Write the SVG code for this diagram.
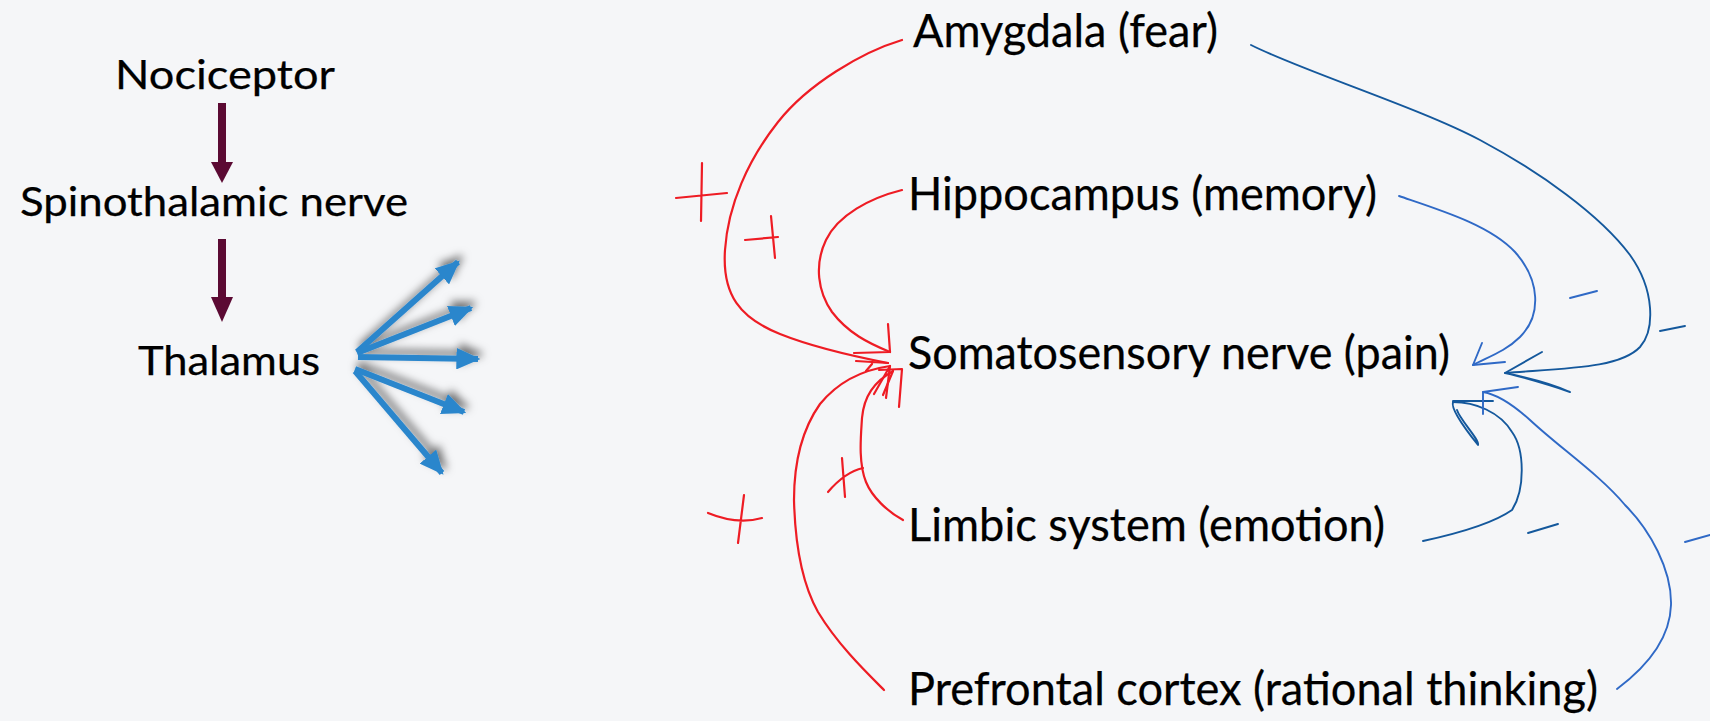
<svg xmlns="http://www.w3.org/2000/svg" width="1710" height="721" viewBox="0 0 1710 721">
<defs>
<style>
.lbl{font-family:Lato,"Open Sans","Liberation Sans",sans-serif;fill:#000;stroke:#000;stroke-width:0.25}
.l{font-size:40px}
.r{font-size:46px}
.red{fill:none;stroke:#ee1c24;stroke-width:2.2;stroke-linecap:round;stroke-linejoin:round}
.bd{fill:none;stroke:#14589c;stroke-width:1.9;stroke-linecap:round;stroke-linejoin:round}
.bl{fill:none;stroke:#2f69c6;stroke-width:1.9;stroke-linecap:round;stroke-linejoin:round}
.mar{fill:#5b0a33}
.fan{stroke:#2b86cc;stroke-width:6;fill:none}
</style>
<marker id="fanhead" viewBox="0 0 4 3.6" refX="3.6" refY="1.8" markerWidth="4" markerHeight="3.6" orient="auto" markerUnits="strokeWidth">
<path d="M0,0 L4,1.8 L0,3.6 z" fill="#2b86cc"/>
</marker>
<filter id="shadow" x="-30%" y="-30%" width="160%" height="160%">
<feDropShadow dx="3" dy="-5" stdDeviation="4" flood-color="#000" flood-opacity="0.55"/>
</filter>
</defs>
<rect x="0" y="0" width="1710" height="721" fill="#f5f6f8"/>

<g id="nociceptor"><text class="lbl l" x="115" y="89" textLength="220" lengthAdjust="spacingAndGlyphs">Nociceptor</text></g>
<g id="spinothalamic"><text class="lbl l" x="20" y="216" textLength="388" lengthAdjust="spacingAndGlyphs">Spinothalamic nerve</text></g>
<g id="thalamus"><text class="lbl l" x="138" y="375" textLength="182" lengthAdjust="spacingAndGlyphs">Thalamus</text></g>
<g id="amygdala"><text class="lbl r" x="913" y="47" textLength="305" lengthAdjust="spacingAndGlyphs">Amygdala (fear)</text></g>
<g id="hippocampus"><text class="lbl r" x="908" y="210" textLength="469" lengthAdjust="spacingAndGlyphs">Hippocampus (memory)</text></g>
<g id="somatosensory"><text class="lbl r" x="908" y="369" textLength="542" lengthAdjust="spacingAndGlyphs">Somatosensory nerve (pain)</text></g>
<g id="limbic"><text class="lbl r" x="908" y="541" textLength="477" lengthAdjust="spacingAndGlyphs">Limbic system (emotion)</text></g>
<g id="prefrontal"><text class="lbl r" x="908" y="705" textLength="690" lengthAdjust="spacingAndGlyphs">Prefrontal cortex (rational thinking)</text></g>

<g id="connectors">
<!-- maroon arrows -->
<rect class="mar" x="218" y="103" width="8" height="60"/>
<polygon class="mar" points="211,162 233,162 222,183"/>
<rect class="mar" x="218" y="239" width="8" height="59"/>
<polygon class="mar" points="211,297 233,297 222,322"/>

<!-- thalamus fan -->
<g filter="url(#shadow)">
<line class="fan" x1="357" y1="352" x2="458" y2="262" marker-end="url(#fanhead)"/>
<line class="fan" x1="357" y1="353" x2="471" y2="308" marker-end="url(#fanhead)"/>
<line class="fan" x1="358" y1="357" x2="478" y2="359" marker-end="url(#fanhead)"/>
<line class="fan" x1="355" y1="369" x2="464" y2="412" marker-end="url(#fanhead)"/>
<line class="fan" x1="355" y1="371" x2="442" y2="473" marker-end="url(#fanhead)"/>
</g>

<!-- red (+) connectors -->
<path class="red" d="M902,40 C862,52 808,84 778,122 C748,160 728,205 725,250 C722,295 740,318 780,334 C815,348 852,356 888,363"/>
<path class="red" d="M888,363 L856,361 M872,364 L866,371"/>
<path class="red" d="M902,190 C870,198 838,215 826,240 C814,265 818,292 832,312 C848,333 868,343 890,352"/>
<path class="red" d="M888,324 L890,352 L854,353"/>
<path class="red" d="M903,520 C888,512 872,497 866,482 C858,462 861,435 862,418 C864,396 874,382 893,371"/>
<path class="red" d="M879,370 L902,369 L899,407 M893,371 L883,395"/>
<path class="red" d="M884,690 C866,672 838,645 818,612 C800,580 795,540 794,500 C794,460 803,428 820,404 C838,382 862,370 890,366"/>
<path class="red" d="M890,366 L874,394 M890,366 L886,398"/>
<path class="red" d="M702,163 L701,221 M676,198 L727,193"/>
<path class="red" d="M771,216 L775,258 M745,240 L778,237"/>
<path class="red" d="M744,495 L738,543 M708,513 Q737,525 762,518"/>
<path class="red" d="M842,458 L845,497 M828,492 Q845,472 863,468"/>

<!-- blue (-) connectors -->
<path class="bd" d="M1251,45 C1300,70 1420,108 1480,140 C1540,172 1600,215 1630,255 C1655,290 1655,330 1640,347 C1620,368 1570,368 1505,373"/>
<path class="bd" d="M1542,352 L1505,373 C1530,378 1555,385 1570,392 C1550,385 1525,378 1510,374"/>
<path class="bl" d="M1399,196 C1440,210 1490,225 1515,252 C1540,280 1542,315 1520,337 C1505,352 1485,358 1473,365"/>
<path class="bl" d="M1482,343 L1473,365 L1505,362"/>
<path class="bd" d="M1423,541 C1460,533 1495,522 1512,510 C1525,490 1525,450 1512,432 C1500,412 1475,402 1453,402"/>
<path class="bd" d="M1453,401 L1493,401 M1453,402 C1450,410 1470,435 1478,445 C1480,440 1460,420 1457,410"/>
<path class="bl" d="M1617,689 C1645,668 1670,640 1671,605 C1672,570 1650,530 1625,505 C1600,475 1560,448 1530,420 C1510,402 1495,394 1483,392"/>
<path class="bl" d="M1483,414 L1483,392 L1518,387"/>
<path class="bl" d="M1570,298 L1597,291"/>
<path class="bd" d="M1660,331 L1685,326"/>
<path class="bd" d="M1528,533 L1558,524"/>
<path class="bl" d="M1685,542 L1710,535"/>
</g>
</svg>
